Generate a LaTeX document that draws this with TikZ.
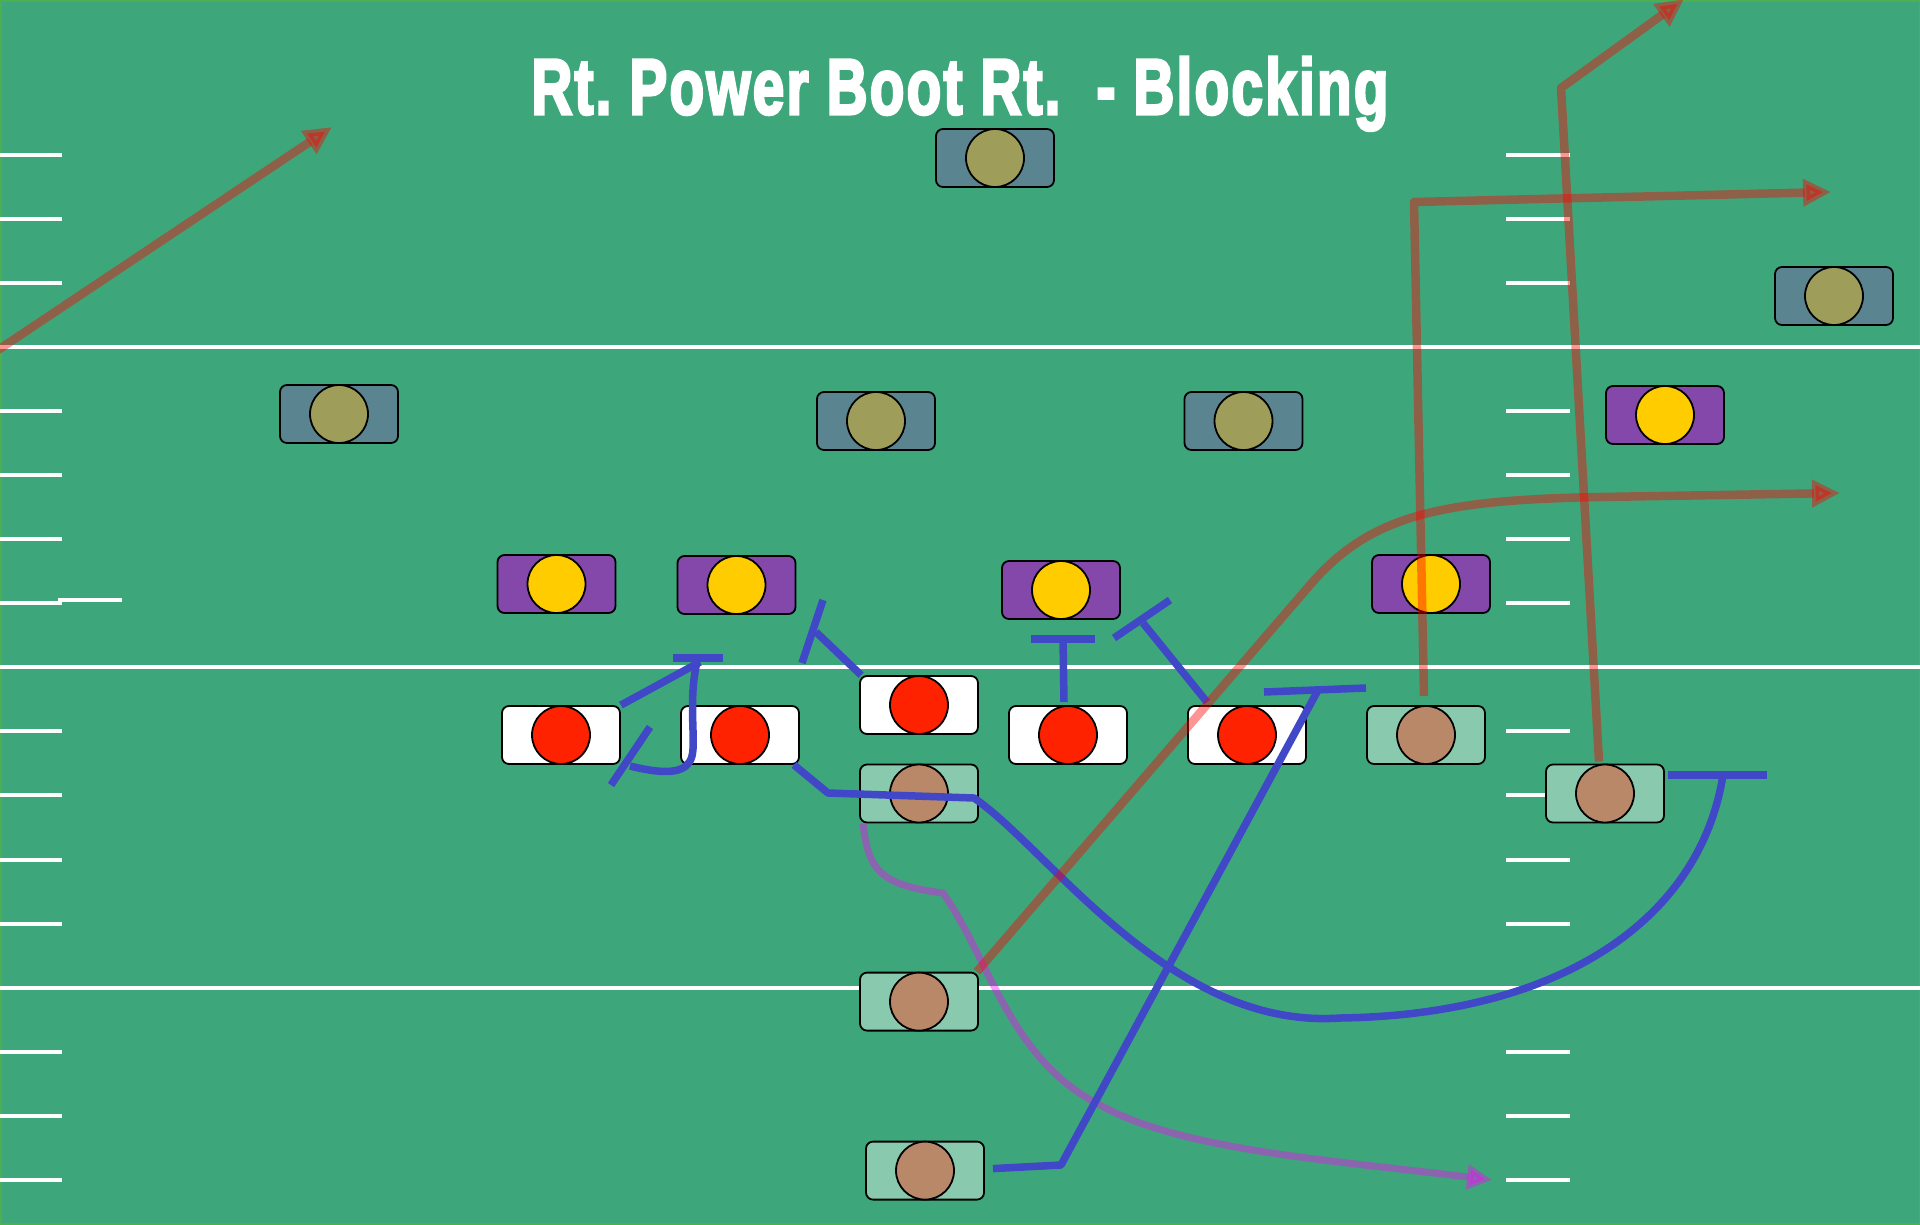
\documentclass[tikz,border=0pt]{standalone}
\usepackage{fontspec}
\usetikzlibrary{arrows.meta,calc}
\newfontfamily\titlefont[FakeBold=4,LetterSpace=4]{Liberation Sans}
\definecolor{fieldgreen}{RGB}{61,167,123}
\definecolor{edgegreen}{RGB}{76,175,80}
\definecolor{slate}{RGB}{91,132,145}
\definecolor{olivedot}{RGB}{158,158,90}
\definecolor{purplebox}{RGB}{132,72,171}
\definecolor{yellowdot}{RGB}{255,204,0}
\definecolor{reddot}{RGB}{255,34,0}
\definecolor{mintbox}{RGB}{137,201,174}
\definecolor{tandot}{RGB}{185,136,104}
\definecolor{blockblue}{RGB}{64,72,200}
\definecolor{routebrown}{RGB}{255,0,0}
\definecolor{routepurple}{RGB}{255,0,255}
\tikzset{
  yardline/.style={draw=white, line width=4.5pt},
  hashmark/.style={draw=white, line width=4pt},
  box/.style={draw=black, line width=1.8pt, rounded corners=7pt, minimum width=118pt, minimum height=58pt, inner sep=0pt},
  dot/.style={circle, draw=black, line width=1.8pt, minimum size=58pt, inner sep=0pt},
  defbox/.style={box, fill=slate}, defdot/.style={dot, fill=olivedot},
  lbbox/.style={box, fill=purplebox}, lbdot/.style={dot, fill=yellowdot},
  olbox/.style={box, fill=white}, oldot/.style={dot, fill=reddot},
  bkbox/.style={box, fill=mintbox}, bkdot/.style={dot, fill=tandot},
  blk/.style={draw=blockblue, line width=7.5pt, line join=round},
  brownroute/.style={draw=routebrown, opacity=0.42, line width=8.5pt, line join=round, -{Triangle[length=28pt,width=26pt]}},
  purpleroute/.style={draw=routepurple, opacity=0.4, line width=7pt, -{Triangle[length=25pt,width=24pt]}},
}
\begin{document}
\begin{tikzpicture}[x=1pt,y=-1pt]
\useasboundingbox (0,0) rectangle (1920,1224);
\fill[fieldgreen] (0,0) rectangle (1920,1224);
\draw[edgegreen, line width=3pt] (0,0) rectangle (1920,1224);
% yard lines
\foreach \yy in {347,667,988} \draw[yardline] (0,\yy) -- (1920,\yy);
\foreach \yy in {155,219,283,411,475,539,603,731,795,860,924,1052,1116,1180} {
  \draw[hashmark] (0,\yy) -- (62,\yy);
  \draw[hashmark] (1506,\yy) -- (1570,\yy);
}
\draw[hashmark] (58,600) -- (122,600);
% title
\node[text=white, anchor=base, inner sep=0pt] (title) at (960,114)
  {\resizebox{857pt}{57pt}{\titlefont\bfseries Rt.\ Power Boot Rt.\ \ - Blocking}};
% defense
\node[defbox] (s1) at (995,158) {};   \node[defdot] (s1c) at (s1) {};
\node[defbox] (s2) at (1834,296) {};  \node[defdot] (s2c) at (s2) {};
\node[defbox] (lb1) at (339,414) {};  \node[defdot] (lb1c) at (lb1) {};
\node[defbox] (lb2) at (876,421) {};  \node[defdot] (lb2c) at (lb2) {};
\node[defbox] (lb3) at (1243.5,421) {}; \node[defdot] (lb3c) at (lb3) {};
\node[lbbox] (p1) at (556.5,584) {};  \node[lbdot] (p1c) at (p1) {};
\node[lbbox] (p2) at (736.5,585) {};  \node[lbdot] (p2c) at (p2) {};
\node[lbbox] (p3) at (1061,590) {};   \node[lbdot] (p3c) at (p3) {};
\node[lbbox] (p4) at (1431,584) {};   \node[lbdot] (p4c) at (p4) {};
\node[lbbox] (p5) at (1665,415) {};   \node[lbdot] (p5c) at (p5) {};
% offensive line
\node[olbox] (lt) at (561,735) {};    \node[oldot] (ltc) at (lt) {};
\node[olbox] (lg) at (740,735) {};    \node[oldot] (lgc) at (lg) {};
\node[olbox] (c) at (919,705) {};     \node[oldot] (cc) at (c) {};
\node[olbox] (rg) at (1068,735) {};   \node[oldot] (rgc) at (rg) {};
\node[olbox] (rt) at (1247,735) {};   \node[oldot] (rtc) at (rt) {};
% backs and receivers
\node[bkbox] (te) at (1426,735) {};   \node[bkdot] (tec) at (te) {};
\node[bkbox] (wr) at (1605,793.5) {}; \node[bkdot] (wrc) at (wr) {};
\node[bkbox] (qb) at (919,793.5) {};  \node[bkdot] (qbc) at (qb) {};
\node[bkbox] (hb) at (919,1001.6) {}; \node[bkdot] (hbc) at (hb) {};
\node[bkbox] (fb) at (925,1170.6) {}; \node[bkdot] (fbc) at (fb) {};
% coordinates
\coordinate (a1) at (700,662);
\coordinate (a2) at (630,766);
\coordinate (g1) at (828,793);
\coordinate (g2) at (974,798);
\coordinate (g3) at (1340,1018);
\coordinate (g4) at (1723,775);
\coordinate (c1) at (816,632);
\coordinate (r1) at (1063,639);
\coordinate (t1) at (1143,623);
\coordinate (f1) at (1061,1165);
\coordinate (f2) at (1317,692);
\coordinate (q1) at (943,893);
\coordinate (q2) at (1100,1105);
\coordinate (q3) at (1492,1180);
\coordinate (b1s) at (-2,350);
\coordinate (b1e) at (332,127);
\coordinate (b2) at (1414,202);
\coordinate (b2e) at (1831,192);
\coordinate (b3) at (1561,88);
\coordinate (b3e) at (1684,-1);
\coordinate (b4) at (1310,585);
\coordinate (b4m) at (1600,497);
\coordinate (b4e) at (1840,493);
% purple route
\draw[purpleroute] ($(qb.south west)+(4,0)$) .. controls (868,870) and (880,885) .. (q1)
  .. controls (990,960) and (1010,1060) .. (q2)
  .. controls (1180,1150) and (1330,1160) .. (q3);
% blocking
\draw[blk] (lt.north east) -- (a1);
\draw[blk] (673,658) -- (723,658);
\draw[blk] (697,662) .. controls (688,700) and (696,740) .. (692,756)
  .. controls (688,772) and (670,776) .. (a2);
\draw[blk] (611,785) -- (650,727);
\draw[blk] ($(lg.south east)+(-6,0)$) -- (g1) -- (g2) .. controls (1050,850) and (1170,1030) .. (g3)
  .. controls (1560,1015) and (1700,920) .. (g4);
\draw[blk] (1668,775) -- (1767,775);
\draw[blk] ($(c.north west)+(2,0)$) -- (c1);
\draw[blk] (802,663) -- (823,600);
\draw[blk] ($(rg.north)+(-4,-3)$) -- (r1);
\draw[blk] (1031,639) -- (1095,639);
\draw[blk] ($(rt.north)+(-40,-3)$) -- (t1);
\draw[blk] (1114,638) -- (1170,600);
\draw[blk] ($(fb.east)+(8,-2)$) -- (f1) -- (f2);
\draw[blk] (1264,692) -- (1366,688);
% pass routes
\draw[brownroute] (b1s) -- (b1e);
\draw[brownroute] ($(te.north)+(-2,-9)$) -- (b2) -- (b2e);
\draw[brownroute] ($(wr.north)+(-6,-2)$) -- (b3) -- (b3e);
\draw[brownroute] ($(hb.north east)+(-2,0)$) -- (b4) .. controls (1370,515) and (1440,500) .. (b4m) -- (b4e);
\end{tikzpicture}
\end{document}
